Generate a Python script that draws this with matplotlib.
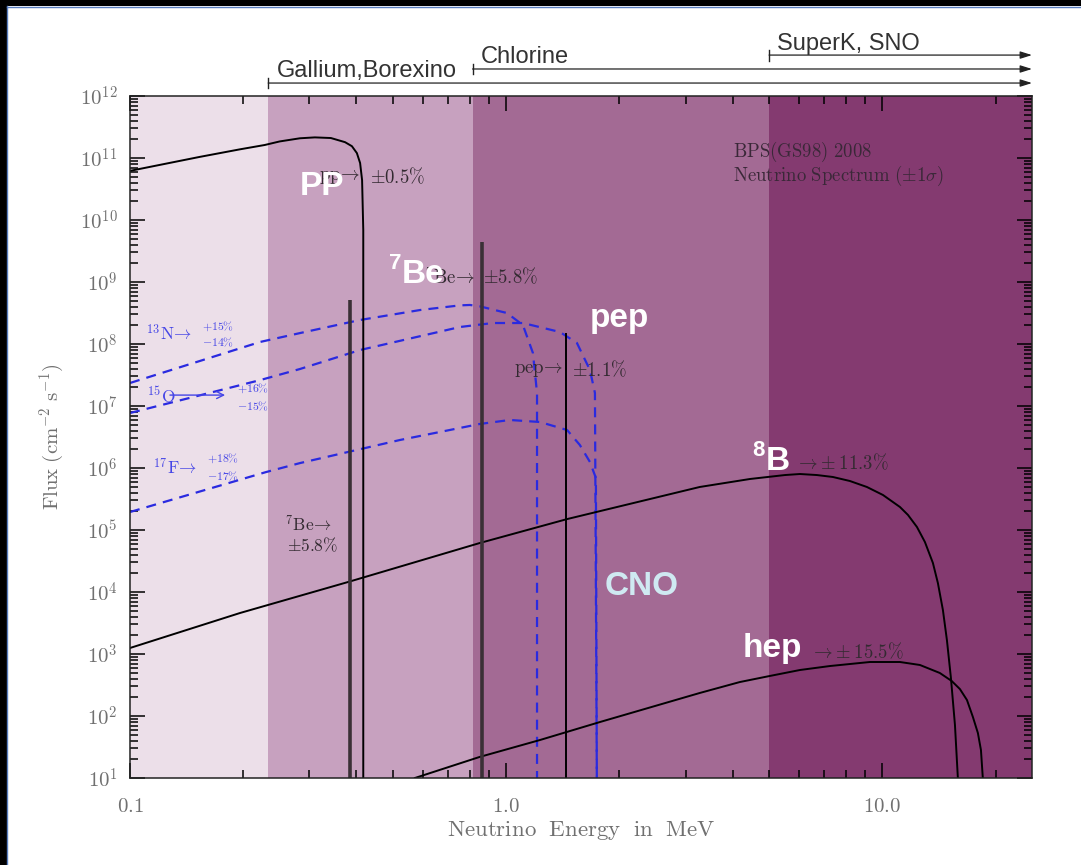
import numpy as np
import matplotlib
matplotlib.use('Agg')
import matplotlib.pyplot as plt
import matplotlib.transforms as mtransforms
from matplotlib.patches import Rectangle
from matplotlib.lines import Line2D
from matplotlib.ticker import LogLocator, FixedLocator, FixedFormatter, NullFormatter, FuncFormatter

plt.rcParams['mathtext.fontset'] = 'cm'
plt.rcParams['font.family'] = ['Liberation Sans', 'DejaVu Sans']

# ---------------- data ----------------
band_edges = [0.1, 0.233, 0.814, 5.0, 25.0]
band_colors = ['#ecdfe9', '#c7a1bf', '#a36a94', '#843a70']
detectors = ['Gallium,Borexino', 'Chlorine', 'SuperK, SNO']
detector_thresholds = [0.233, 0.814, 5.0]

pp_E = [0.100, 0.153, 0.196, 0.228, 0.250, 0.283, 0.310, 0.342, 0.373, 0.389, 0.401, 0.409, 0.414,
        0.417, 0.417]
pp_F = [6.2e10, 1.04e11, 1.38e11, 1.62e11, 1.85e11, 2.08e11, 2.15e11, 2.10e11, 1.80e11, 1.55e11,
        1.2e11, 8.3e10, 4.4e10, 6.9e9, 10]

be7_lines_E = [0.384, 0.862]
be7_lines_F = [5.1e8, 4.4e9]
pep_line_E = [1.442]
pep_line_F = [1.5e8]

b8_E = [0.100, 0.196, 0.380, 0.851, 1.452, 3.27, 4.45, 5.51, 6.04, 6.70, 7.39, 8.20, 9.10, 10.04,
        11.14, 11.70, 12.36, 12.98, 13.63, 14.05, 14.49, 14.85, 15.22, 15.60, 15.88]
b8_F = [1.25e3, 4.58e3, 1.45e4, 6.17e4, 1.50e5, 4.94e5, 6.65e5, 7.7e5, 8.0e5, 7.7e5, 7.16e5, 6.17e5,
        4.94e5, 3.67e5, 2.35e5, 1.75e5, 1.12e5, 6.4e4, 2.94e4, 1.40e4, 5.13e3, 1.68e3, 410, 71.6, 10]

hep_E = [0.572, 0.851, 1.230, 1.776, 3.27, 4.18, 5.02, 6.04, 7.26, 9.27, 11.14, 12.59, 14.22,
         15.29, 16.08, 16.79, 17.41, 17.95, 18.29, 18.5]
hep_F = [10, 21.9, 41, 80, 235, 353, 442, 552, 640, 743, 743, 665, 494, 367, 272, 181, 96.4,
         53.2, 28.3, 10]

n13_E = [0.100, 0.222, 0.283, 0.409, 0.590, 0.754, 0.801, 0.851, 1.005, 1.108, 1.178, 1.208, 1.208]
n13_F = [2.35e7, 1.08e8, 1.50e8, 2.44e8, 3.53e8, 4.20e8, 4.26e8, 4.05e8, 3.16e8, 2.02e8, 7.16e7,
         1.62e7, 10]

o15_E = [0.100, 0.222, 0.283, 0.409, 0.754, 0.922, 1.108, 1.390, 1.542, 1.670, 1.722, 1.742]
o15_F = [7.71e6, 2.62e7, 3.95e7, 8.0e7, 1.88e8, 2.18e8, 2.18e8, 1.56e8, 1.04e8, 3.81e7, 1.62e7, 10]

f17_E = [0.100, 0.230, 0.283, 0.522, 0.851, 1.023, 1.230, 1.452, 1.570, 1.670, 1.732, 1.742]
f17_F = [1.95e5, 8.6e5, 1.2e6, 2.83e6, 5.13e6, 5.95e6, 5.52e6, 4.1e6, 2.35e6, 1.25e6, 6.9e5, 10]

x_tick_vals = [0.1, 1.0, 10.0]
x_tick_labels = [r'$0.1$', r'$1.0$', r'$10.0$']

# ---------------- figure ----------------
W, H = 1081, 865
fig = plt.figure(figsize=(W / 100, H / 100), dpi=100)
fig.patch.set_facecolor('white')
ax = fig.add_axes([130 / W, 1 - 778 / H, (1032 - 130) / W, (778 - 96) / H])
ax.set_xscale('log')
ax.set_yscale('log')

for i, c in enumerate(band_colors):
    ax.axvspan(band_edges[i], band_edges[i + 1], color=c, lw=0, zorder=0)

dash = (4.5, 3.2)
blue = '#2a2ae0'
for E, F in [(n13_E, n13_F), (o15_E, o15_F), (f17_E, f17_F)]:
    ax.plot(E, F, color=blue, lw=1.6, ls=(0, dash), zorder=2)

ax.plot(pp_E, pp_F, color='black', lw=1.4, zorder=2)
ax.plot(b8_E, b8_F, color='black', lw=1.4, zorder=2)
ax.plot(hep_E, hep_F, color='black', lw=1.4, zorder=2)
ax.vlines(be7_lines_E, 10, be7_lines_F, color='#3a3036', lw=2.6, zorder=2)
ax.vlines(pep_line_E, 10, pep_line_F, color='black', lw=1.4, zorder=2)

# ---------------- annotations ----------------
dark = '#332a31'
sfs = 13.5
ax.text(0.41, 4.94e10, r'$\mathrm{pp}\!\rightarrow$', ha='right', va='center', fontsize=sfs, color=dark, zorder=3)
ax.text(0.434, 4.94e10, r'$\pm0.5\%$', ha='left', va='center', fontsize=sfs, color=dark, zorder=3)
ax.text(0.831, 1.2e9, r'$^7\mathrm{Be}\!\rightarrow$', ha='right', va='center', fontsize=sfs, color=dark, zorder=3)
ax.text(0.87, 1.2e9, r'$\pm5.8\%$', ha='left', va='center', fontsize=sfs, color=dark, zorder=3)
ax.text(1.416, 3.8e7, r'$\mathrm{pep}\!\rightarrow$', ha='right', va='center', fontsize=sfs, color=dark, zorder=3)
ax.text(1.496, 3.8e7, r'$\pm1.1\%$', ha='left', va='center', fontsize=sfs, color=dark, zorder=3)
ax.text(0.258, 1.25e5, r'$^7\mathrm{Be}\!\rightarrow$', ha='left', va='center', fontsize=12.5, color=dark, zorder=3)
ax.text(0.262, 5.8e4, r'$\pm5.8\%$', ha='left', va='center', fontsize=12.5, color=dark, zorder=3)
ax.text(5.86, 1.2e6, r'$\rightarrow\!\pm11.3\%$', ha='left', va='center', fontsize=sfs, color=dark, zorder=3)
ax.text(6.42, 1.077e3, r'$\rightarrow\!\pm15.5\%$', ha='left', va='center', fontsize=sfs, color=dark, zorder=3)
ax.text(4.01, 1.25e11, r'$\mathrm{BPS(GS98)\ 2008}$', ha='left', va='center', fontsize=13.5, color='#3a2838', zorder=3)
ax.text(4.01, 5.1e10, r'$\mathrm{Neutrino\ Spectrum\ (\pm1\sigma)}$', ha='left', va='center', fontsize=13.5, color='#3a2838', zorder=3)

lb = '#4646e6'
ax.text(0.110, 1.5e8, r'$^{13}\mathrm{N}\!\rightarrow$', ha='left', va='center', fontsize=12.5, color=lb, zorder=3)
ax.text(0.155, 1.95e8, r'$+15\%$', ha='left', va='center', fontsize=8.5, color=lb, zorder=3)
ax.text(0.155, 1.04e8, r'$-14\%$', ha='left', va='center', fontsize=8.5, color=lb, zorder=3)
ax.text(0.111, 1.5e7, r'$^{15}\mathrm{O}$', ha='left', va='center', fontsize=12.5, color=lb, zorder=3)
ax.annotate('', xy=(0.179, 1.5e7), xytext=(0.1277, 1.5e7),
            arrowprops=dict(arrowstyle='->,head_length=0.5,head_width=0.25', color=lb, lw=1.0,
                            shrinkA=0, shrinkB=0), zorder=3)
ax.text(0.1925, 1.95e7, r'$+16\%$', ha='left', va='center', fontsize=8.5, color=lb, zorder=3)
ax.text(0.1925, 9.6e6, r'$-15\%$', ha='left', va='center', fontsize=8.5, color=lb, zorder=3)
ax.text(0.115, 1.04e6, r'$^{17}\mathrm{F}\!\rightarrow$', ha='left', va='center', fontsize=12.5, color=lb, zorder=3)
ax.text(0.160, 1.45e6, r'$+18\%$', ha='left', va='center', fontsize=8.5, color=lb, zorder=3)
ax.text(0.160, 7.2e5, r'$-17\%$', ha='left', va='center', fontsize=8.5, color=lb, zorder=3)

wfs = 24
wkw = dict(color='white', fontsize=wfs, fontweight='bold', family='Liberation Sans', zorder=4, va='baseline')
ax.text(0.283, 2.53e10, 'PP', ha='left', **wkw)
ax.text(0.528, 9.6e8, 'Be', ha='left', **wkw)
ax.annotate('7', xy=(0.528, 9.6e8), xytext=(-0.5, 10), textcoords='offset points', ha='right',
            va='baseline', color='white', fontsize=16, fontweight='bold', family='Liberation Sans', zorder=4)
ax.text(2.0, 1.88e8, 'pep', ha='center', **wkw)
ax.text(4.90, 9.3e5, 'B', ha='left', **wkw)
ax.annotate('8', xy=(4.90, 9.3e5), xytext=(-0.5, 10), textcoords='offset points', ha='right',
            va='baseline', color='white', fontsize=16, fontweight='bold', family='Liberation Sans', zorder=4)
ax.text(4.26, 896, 'hep', ha='left', **wkw)
ax.text(1.83, 8.95e3, 'CNO', ha='left', va='baseline', color='#cfe9f2', fontsize=wfs,
        fontweight='bold', family='Liberation Sans', zorder=4)

# detector threshold arrows above the plot
trans = mtransforms.blended_transform_factory(ax.transData, ax.transAxes)
det_y = [1.019, 1.0396, 1.060]
for name, thr, y in zip(detectors, detector_thresholds, det_y):
    ax.annotate('', xy=(25.0, y), xytext=(thr, y), xycoords=trans, textcoords=trans,
                arrowprops=dict(arrowstyle='-|>,head_length=0.7,head_width=0.22', color='#222222',
                                lw=0.9, shrinkA=0, shrinkB=0), annotation_clip=False)
    ax.plot([thr, thr], [y - 0.008, y + 0.008], transform=trans, color='#222222', lw=1.0, clip_on=False)
    ax.annotate(name, xy=(thr, y), xycoords=trans, xytext=(6, 4), textcoords='offset points',
                ha='left', va='baseline', fontsize=17, color='#333333', family='Liberation Sans',
                annotation_clip=False)

# ---------------- axes styling ----------------
ax.set_xlim(band_edges[0], band_edges[-1])
ax.set_ylim(10, 1e12)
ax.xaxis.set_major_locator(FixedLocator(x_tick_vals))
ax.xaxis.set_major_formatter(FixedFormatter(x_tick_labels))
ax.xaxis.set_minor_locator(LogLocator(base=10, subs=np.arange(2, 10), numticks=100))
ax.xaxis.set_minor_formatter(NullFormatter())
ax.yaxis.set_major_locator(LogLocator(base=10, numticks=100))
ax.yaxis.set_major_formatter(FuncFormatter(lambda v, p: r'$10^{%d}$' % int(round(np.log10(v)))))
ax.yaxis.set_minor_locator(LogLocator(base=10, subs=np.arange(2, 10), numticks=100))
ax.yaxis.set_minor_formatter(NullFormatter())
ax.tick_params(which='both', direction='in', top=True, right=True, color='black', width=1.1)
ax.tick_params(which='major', length=11, labelsize=15, labelcolor='#707070')
ax.tick_params(axis='x', which='major', pad=14)
ax.tick_params(axis='y', which='major', pad=9)
ax.tick_params(which='minor', length=5.5)
for s in ax.spines.values():
    s.set_color('#222222')
    s.set_linewidth(1.1)
    s.set_zorder(5)

ax.set_xlabel(r'$\mathrm{Neutrino\ \ Energy\ \ in\ \ MeV}$', fontsize=16.5, color='#707070')
ax.set_ylabel(r'$\mathrm{Flux\ (cm^{-2}\ s^{-1})}$', fontsize=15, color='#707070')
ax.xaxis.set_label_coords(0.5, -0.06)
ax.yaxis.set_label_coords(-0.071, 0.5)

# black screen frame at top/left
fig.add_artist(Rectangle((0, 1 - 6 / H), 1, 6 / H, transform=fig.transFigure, facecolor='black', edgecolor='none', zorder=10))
fig.add_artist(Rectangle((0, 0), 7 / W, 1, transform=fig.transFigure, facecolor='black', edgecolor='none', zorder=10))
fig.add_artist(Line2D([7.5 / W, 7.5 / W], [0, 1 - 6 / H], transform=fig.transFigure, color='#5a7fc0', lw=1, zorder=10))
fig.add_artist(Line2D([7.5 / W, 1], [1 - 6.5 / H, 1 - 6.5 / H], transform=fig.transFigure, color='#5a7fc0', lw=1, zorder=10))

fig.savefig('out.png', dpi=100)
